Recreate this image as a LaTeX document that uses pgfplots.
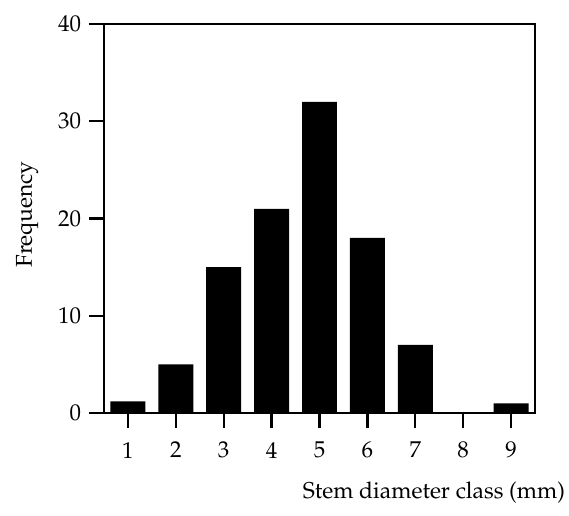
\documentclass[border=0pt]{standalone}
\usepackage[T1]{fontenc}
\usepackage{mathpazo}
\usepackage{pgfplots}
\pgfplotsset{compat=1.18}
\begin{document}
\begin{tikzpicture}
\useasboundingbox (-52bp,-51.5bp) rectangle (232.5bp,206.5bp);
\begin{axis}[
  at={(0,0)}, anchor=south west,
  scale only axis,
  width=215.5bp, height=194.5bp,
  xmin=0.5, xmax=9.5, ymin=0, ymax=40,
  xtick={1,2,3,4,5,6,7,8,9},
  ytick={0,10,20,30,40},
  xtick pos=bottom, ytick pos=left,
  tick align=outside,
  major tick length=7.5bp,
  axis line style={line width=1.3pt},
  every tick/.style={line width=1.2pt, black},
  tick label style={font=\fontsize{11.5}{13}\selectfont},
  xticklabel style={yshift=-3.5bp},
  yticklabel style={xshift=-0.5bp},
  ylabel={Frequency},
  ylabel style={font=\fontsize{11.5}{13}\selectfont, at={(axis description cs:-0.178,0.51)}, anchor=center},
  xlabel={Stem diameter class (mm)},
  xlabel style={font=\fontsize{11.5}{13}\selectfont, at={(axis description cs:1,0)}, anchor=east, xshift=18.5bp, yshift=-40bp},
  ybar, bar width=0.73,
]
\addplot[fill=black, draw=none] coordinates {
 (1,1.2) (2,5) (3,15) (4,21) (5,32) (6,18) (7,7) (8,0) (9,1)
};
\end{axis}
\end{tikzpicture}
\end{document}
